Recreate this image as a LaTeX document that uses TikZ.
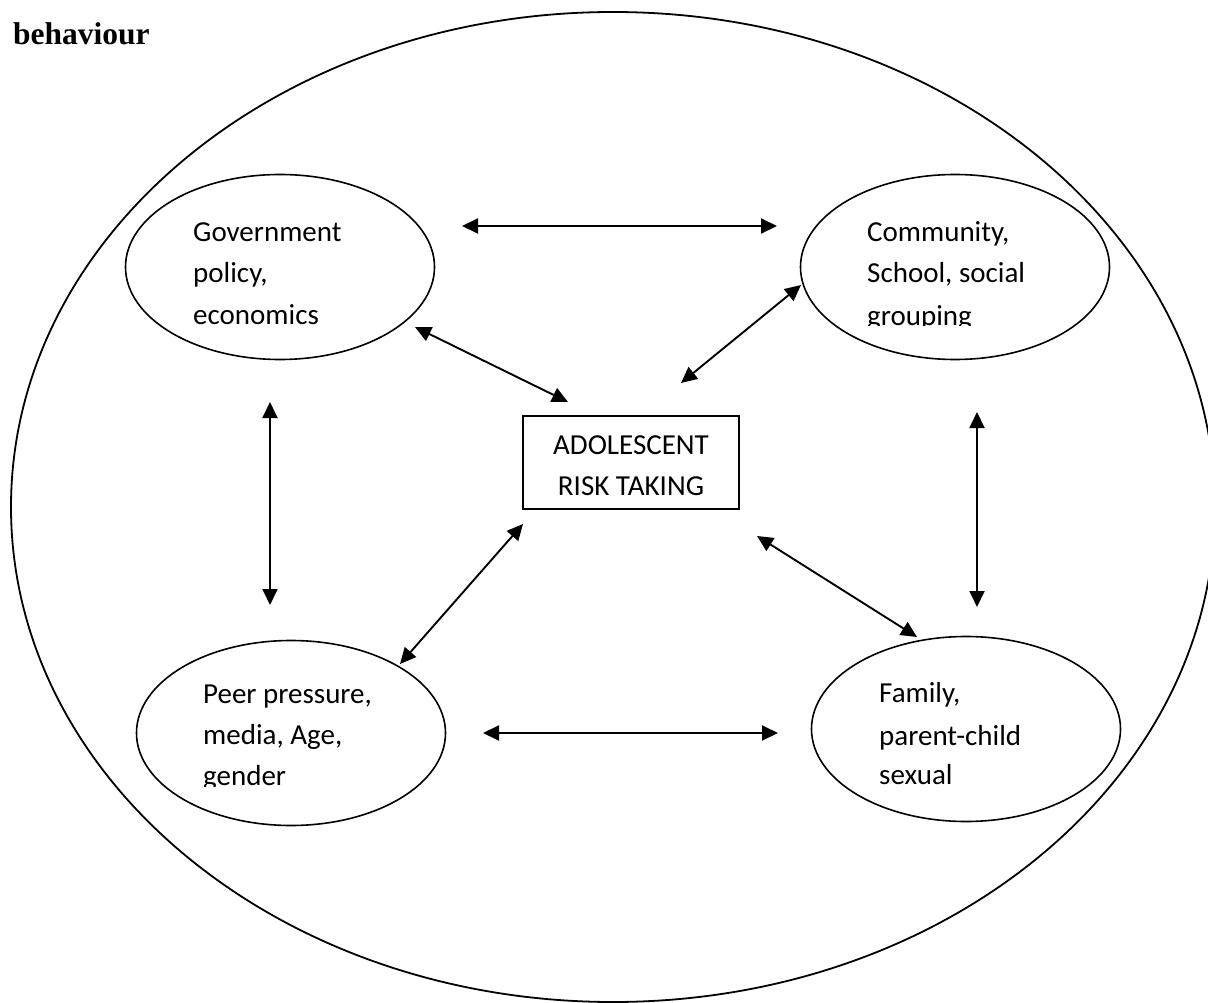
\documentclass[tikz,border=0pt]{standalone}
\usepackage{fontspec}
\newfontfamily\calib{Carlito}
\newfontfamily\timesf{Liberation Serif}
\usetikzlibrary{shapes.geometric,arrows.meta}
\tikzset{
  oval/.style={draw, line width=1.6pt, ellipse, inner sep=0pt, minimum width=309pt, minimum height=185pt},
  txt/.style={font=\calib\fontsize{29}{41}\selectfont, inner sep=0pt, anchor=base west},
  dbl/.style={line width=1.9pt, {Triangle[length=16pt,width=15pt]}-{Triangle[length=16pt,width=15pt]}},
}
\begin{document}
\begin{tikzpicture}[x=1pt,y=-1pt]
\useasboundingbox (0,0) rectangle (1208,1003);
\begin{scope}
\clip (0,0) rectangle (1208,1003);
\node[draw, line width=1.8pt, ellipse, inner sep=0pt, minimum width=1204pt, minimum height=990pt] (outer) at (613,507) {};
\end{scope}
\node[font=\timesf\bfseries\fontsize{31.5}{36}\selectfont, inner sep=0pt, anchor=base west] (title) at (13,45) {behaviour};

\node[oval] (gov) at (280,267) {};
\node[oval] (com) at (955,267) {};
\node[oval] (peer) at (291,733) {};
\node[oval] (fam) at (966,729) {};

\node[txt] (gov1) at (193,242) {Government};
\node[txt] (gov2) at (193,283) {policy,};
\node[txt] (gov3) at (193,324) {economics};

\node[txt] (com1) at (867,242) {Community,};
\node[txt] (com2) at (867,283) {School, social};
\begin{scope}
\clip (850,295) rectangle (1100,325);
\node[txt] (com3) at (867,325) {grouping};
\end{scope}

\node[txt] (peer1) at (203,703) {Peer pressure,};
\node[txt] (peer2) at (203,744) {media, Age,};
\begin{scope}
\clip (190,755) rectangle (440,786);
\node[txt] (peer3) at (203,785) {gender};
\end{scope}

\node[txt] (fam1) at (879,702) {Family,};
\node[txt] (fam2) at (879,745) {parent-child};
\node[txt] (fam3) at (879,784) {sexual};

\node[draw, line width=1.8pt, minimum width=216pt, minimum height=93pt, inner sep=0pt] (core) at (631,462.5) {};
\node[txt, anchor=base] (core1) at (631,454) {ADOLESCENT};
\node[txt, anchor=base] (core2) at (631,495) {RISK TAKING};

\coordinate (a1) at (462,226); \coordinate (b1) at (777,226);
\coordinate (a2) at (483,733); \coordinate (b2) at (778,733);
\coordinate (a3) at (270,402); \coordinate (b3) at (270,605);
\coordinate (a4) at (977,412); \coordinate (b4) at (977,607);
\coordinate (a5) at (415,327); \coordinate (b5) at (568,402);
\coordinate (a6) at (801,285); \coordinate (b6) at (681,383);
\coordinate (a7) at (400,664); \coordinate (b7) at (523,524);
\coordinate (a8) at (757,536); \coordinate (b8) at (917,637);

\foreach \i in {1,...,8} \draw[dbl] (a\i) -- (b\i);
\end{tikzpicture}
\end{document}
